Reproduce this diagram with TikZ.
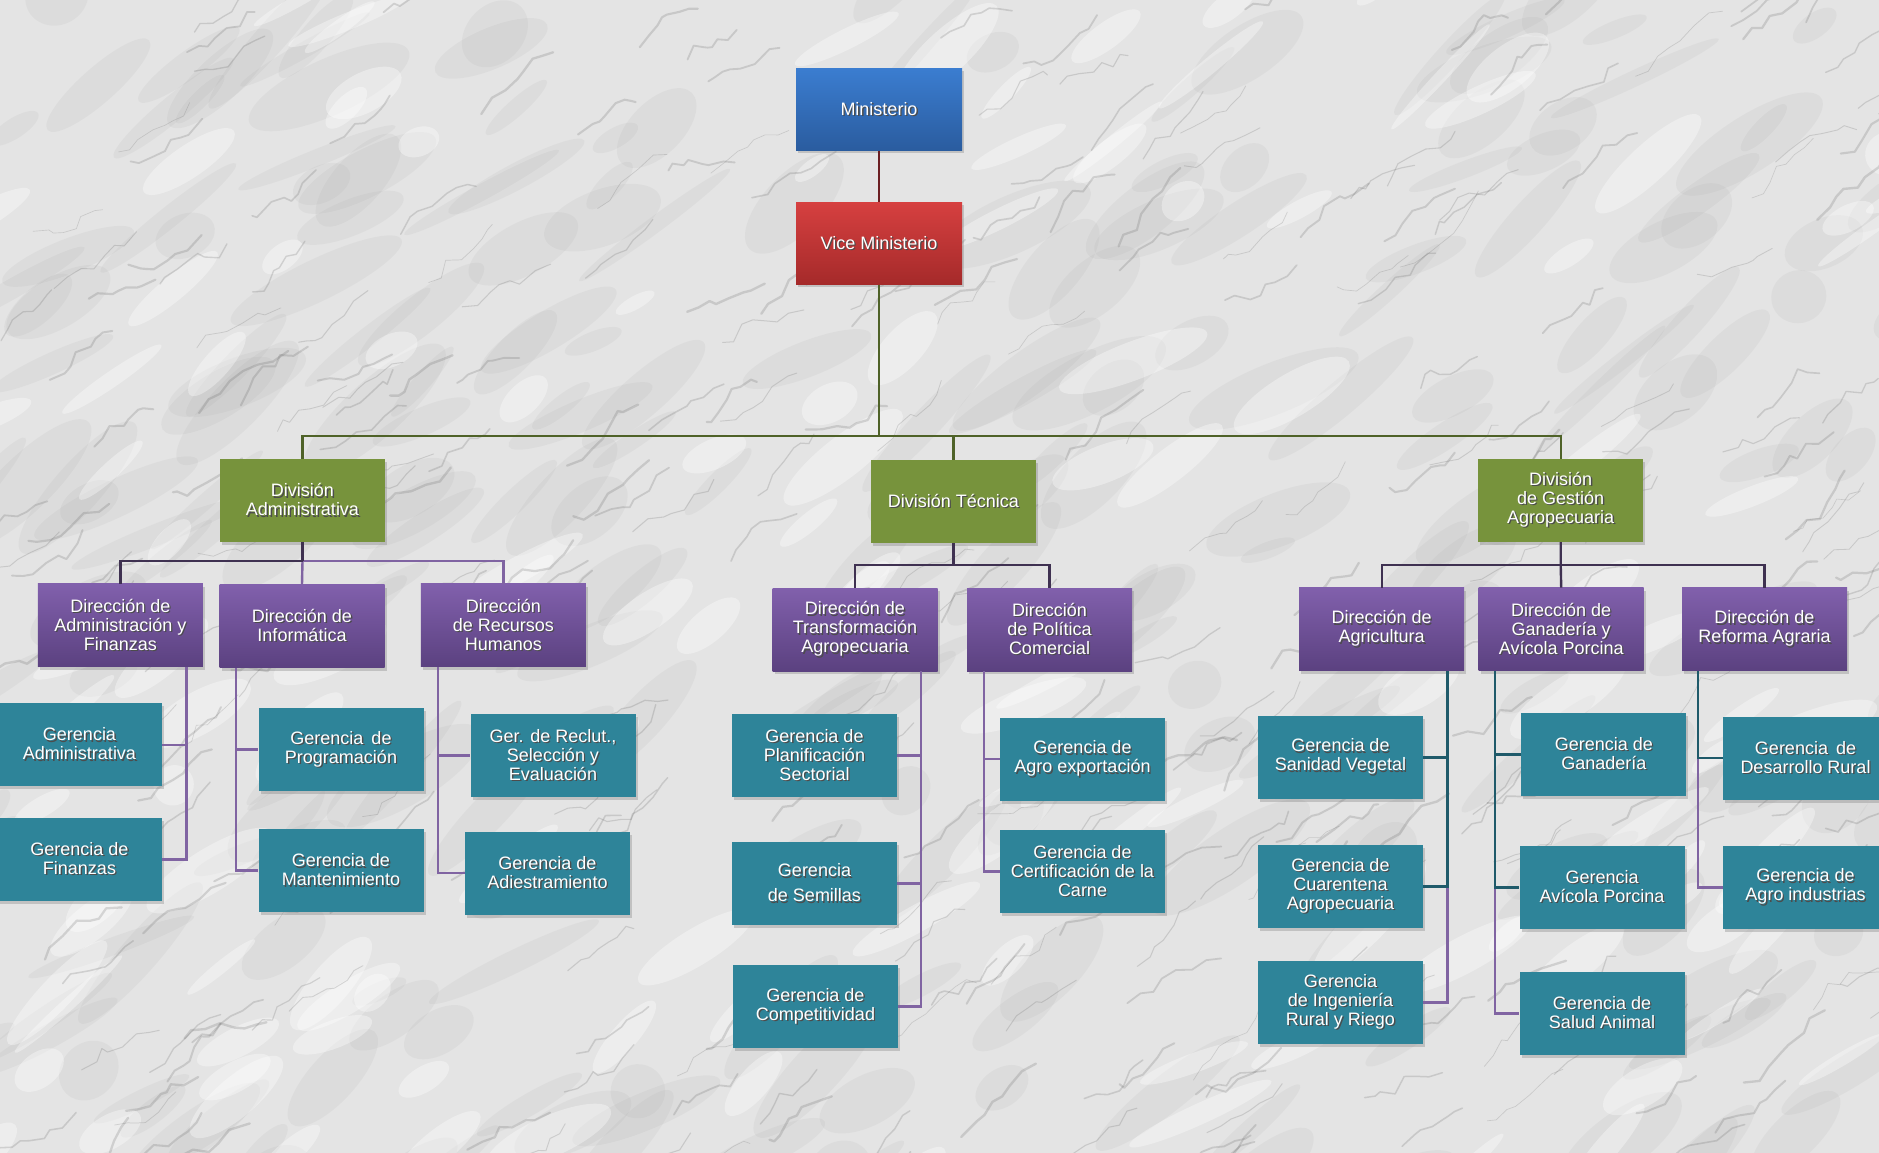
\documentclass[tikz,border=0pt]{standalone}
\usepackage{fontspec}
\setmainfont{Liberation Sans}
\usetikzlibrary{shadows}
\definecolor{bgc}{HTML}{E4E4E4}
\definecolor{minT}{HTML}{3B7DD0}
\definecolor{minB}{HTML}{2A5C9F}
\definecolor{viceT}{HTML}{D64040}
\definecolor{viceB}{HTML}{A52A2A}
\definecolor{grn}{HTML}{77933C}
\definecolor{purT}{HTML}{8160AC}
\definecolor{purB}{HTML}{5B4180}
\definecolor{tealc}{HTML}{2E8499}
\definecolor{lnRed}{HTML}{6B1E22}
\definecolor{lnGrn}{HTML}{4F6228}
\definecolor{lnDk}{HTML}{3F3151}
\definecolor{lnPur}{HTML}{8064A2}
\definecolor{lnTeal}{HTML}{1F5A6A}
\newcommand\sh[1]{\makebox[0pt][l]{\hspace{1.3pt}\raisebox{-1.3pt}{\color{black!70}#1}}#1}
\tikzset{
  box/.style={rectangle, inner sep=2pt, align=center, text=white,
    font=\fontsize{18}{19}\selectfont, minimum width=165pt, minimum height=83pt,
    drop shadow={shadow xshift=2pt, shadow yshift=-3pt, opacity=0.35}},
  minbox/.style={box, top color=minT, bottom color=minB},
  vicebox/.style={box, top color=viceT, bottom color=viceB},
  divbox/.style={box, fill=grn},
  dirbox/.style={box, top color=purT, bottom color=purB},
  gerbox/.style={box, fill=tealc},
  ln/.style={line width=2.4pt},
  lred/.style={ln, draw=lnRed},
  lgrn/.style={ln, draw=lnGrn},
  ldk/.style={ln, draw=lnDk},
  lpur/.style={ln, draw=lnPur},
  lteal/.style={ln, draw=lnTeal},
}
\begin{document}
\begin{tikzpicture}[x=1pt, y=-1pt]
\useasboundingbox (0,0) rectangle (1879,1153);
\clip (0,0) rectangle (1879,1153);
\fill[bgc] (0,0) rectangle (1879,1153);
% marble texture
\pgfmathsetseed{4242}
\foreach \i in {1,...,260}{
  \pgfmathsetmacro\xa{rnd*1960-40}
  \pgfmathsetmacro\ya{rnd*1220-30}
  \pgfmathsetmacro\rx{25+rnd*70}
  \pgfmathsetmacro\ry{8+rnd*22}
  \pgfmathsetmacro\rot{20+rnd*30}
  \fill[gray, opacity=0.07, rotate around={\rot:(\xa,\ya)}] (\xa,\ya) ellipse [x radius=\rx pt, y radius=\ry pt];
}
\foreach \i in {1,...,140}{
  \pgfmathsetmacro\xa{rnd*1960-40}
  \pgfmathsetmacro\ya{rnd*1220-30}
  \pgfmathsetmacro\rx{20+rnd*60}
  \pgfmathsetmacro\ry{6+rnd*16}
  \pgfmathsetmacro\rot{20+rnd*30}
  \fill[white, opacity=0.35, rotate around={\rot:(\xa,\ya)}] (\xa,\ya) ellipse [x radius=\rx pt, y radius=\ry pt];
}
\foreach \i in {1,...,320}{
  \pgfmathsetmacro\xa{rnd*1960-40}
  \pgfmathsetmacro\ya{rnd*1220-30}
  \pgfmathsetmacro\lw{0.6+rnd*1.8}
  \draw[line width=\lw pt, gray!70!black, opacity=0.2, line cap=round, line join=round]
    (\xa,\ya) \foreach \k in {1,...,7}{ -- ++({4+12*rnd},{-3-7*rnd+8*rand}) };
}

% top
\node[minbox, minimum width=166pt, minimum height=82pt] (min) at (879,109.5) {\sh{Ministerio}};
\node[vicebox, minimum width=166pt, minimum height=82pt] (vice) at (879,243.3) {\sh{Vice Ministerio}};
% divisions
\node[divbox] (divA) at (302.5,500.5) {\sh{División}\\\sh{Administrativa}};
\node[divbox] (divT) at (953.3,501.5) {\sh{División Técnica}};
\node[divbox] (divG) at (1560.7,500.5) {\sh{División}\\\sh{de Gestión}\\\sh{Agropecuaria}};
% direcciones
\node[dirbox] (dAF) at (120.4,625.3) {\sh{Dirección de}\\\sh{Administración y}\\\sh{Finanzas}};
\node[dirbox] (dInf) at (302,626.3) {\sh{Dirección de}\\\sh{Informática}};
\node[dirbox] (dRH) at (503.4,625.3) {\sh{Dirección}\\\sh{de Recursos}\\\sh{Humanos}};
\node[dirbox] (dTA) at (855,629.6) {\sh{Dirección de}\\\sh{Transformación}\\\sh{Agropecuaria}};
\node[dirbox] (dPC) at (1049.5,629.6) {\sh{Dirección}\\\sh{de Política}\\\sh{Comercial}};
\node[dirbox] (dAg) at (1381.7,629.3) {\sh{Dirección de}\\\sh{Agricultura}};
\node[dirbox] (dGan) at (1561.2,629.3) {\sh{Dirección de}\\\sh{Ganadería y}\\\sh{Avícola Porcina}};
\node[dirbox] (dRA) at (1764.5,629.3) {\sh{Dirección de}\\\sh{Reforma Agraria}};
% gerencias
\node[gerbox] (gAdm) at (79.5,744.7) {\sh{Gerencia}\\\sh{Administrativa}};
\node[gerbox] (gFin) at (79.5,859.3) {\sh{Gerencia de}\\\sh{Finanzas}};
\node[gerbox] (gProg) at (341,749.5) {\sh{Gerencia\, de}\\\sh{Programación}};
\node[gerbox] (gMant) at (341,870.5) {\sh{Gerencia de}\\\sh{Mantenimiento}};
\node[gerbox] (gRecl) at (553,755.5) {\sh{Ger. de Reclut.,}\\\sh{Selección y}\\\sh{Evaluación}};
\node[gerbox] (gAdies) at (547.5,873.2) {\sh{Gerencia de}\\\sh{Adiestramiento}};
\node[gerbox] (gPlan) at (814.5,755.5) {\sh{Gerencia de}\\\sh{Planificación}\\\sh{Sectorial}};
\node[gerbox] (gSem) at (814.5,883.5) {\sh{Gerencia}\\[6pt]\sh{de Semillas}};
\node[gerbox] (gComp) at (815.5,1006.5) {\sh{Gerencia de}\\\sh{Competitividad}};
\node[gerbox] (gAgroExp) at (1082.5,759.2) {\sh{Gerencia de}\\\sh{Agro exportación}};
\node[gerbox] (gCert) at (1082.5,871.3) {\sh{Gerencia de}\\\sh{Certificación de la}\\\sh{Carne}};
\node[gerbox] (gSan) at (1340.5,757.3) {\sh{Gerencia de}\\\sh{Sanidad Vegetal}};
\node[gerbox] (gCuar) at (1340.5,886.3) {\sh{Gerencia de}\\\sh{Cuarentena}\\\sh{Agropecuaria}};
\node[gerbox] (gIng) at (1340.5,1002.3) {\sh{Gerencia}\\\sh{de Ingeniería}\\\sh{Rural y Riego}};
\node[gerbox] (gGan) at (1603.8,754.3) {\sh{Gerencia de}\\\sh{Ganadería}};
\node[gerbox] (gAvi) at (1602,887.3) {\sh{Gerencia}\\\sh{Avícola Porcina}};
\node[gerbox] (gSal) at (1602,1013.3) {\sh{Gerencia de}\\\sh{Salud Animal}};
\node[gerbox] (gDes) at (1805.5,758) {\sh{Gerencia\, de}\\\sh{Desarrollo Rural}};
\node[gerbox] (gAgroInd) at (1805.5,887.3) {\sh{Gerencia de}\\\sh{Agro industrias}};

% connectors
\draw[lred] (min.south) -- (vice.north);
\coordinate (bus0) at (879,436);
\draw[lgrn] (vice.south) -- (bus0);
\draw[lgrn] (divA.north) |- (bus0);
\draw[lgrn] (divG.north) |- (bus0);
\draw[lgrn] (divT.north) |- (bus0);

\coordinate (busA) at (302.5,561);
\draw[lpur] (busA) -| (dRH.north);
\draw[lpur] (busA) -- (dInf.north);
\draw[ldk] (divA.south) -- (busA);
\draw[ldk] (busA) -| (dAF.north);

\coordinate (busT) at (953.3,565);
\draw[ldk] (divT.south) -- (busT);
\draw[ldk] (busT) -| (dTA.north);
\draw[ldk] (busT) -| (dPC.north);

\coordinate (busG) at (1560.7,565);
\draw[ldk] (divG.south) -- (busG) -- (dGan.north);
\draw[ldk] (busG) -| (dAg.north);
\draw[ldk] (busG) -| (dRA.north);

% direccion -> gerencia
\draw[lpur] ([xshift=66pt]dAF.south) |- (gAdm.east);
\draw[lpur] ([xshift=66pt]dAF.south) |- (gFin.east);
\draw[lpur] ([xshift=-66.3pt]dInf.south) |- (gProg.west);
\draw[lpur] ([xshift=-66.3pt]dInf.south) |- (gMant.west);
\draw[lpur] ([xshift=-65.7pt]dRH.south) |- (gRecl.west);
\draw[lpur] ([xshift=-65.7pt]dRH.south) |- (gAdies.west);
\draw[lpur] ([xshift=65.7pt]dTA.south) |- (gPlan.east);
\draw[lpur] ([xshift=65.7pt]dTA.south) |- (gSem.east);
\draw[lpur] ([xshift=65.7pt]dTA.south) |- (gComp.east);
\draw[lpur] ([xshift=-65.5pt]dPC.south) |- (gAgroExp.west);
\draw[lpur] ([xshift=-65.5pt]dPC.south) |- (gCert.west);

\draw[lpur] ([xshift=65.6pt]dAg.south) |- (gIng.east);
\draw[lteal] ([xshift=65.6pt]dAg.south) |- (gSan.east);
\draw[lteal] ([xshift=65.6pt]dAg.south) |- (gCuar.east);
\draw[lpur] ([xshift=-66pt]dGan.south) |- (gSal.west);
\draw[lteal] ([xshift=-66pt]dGan.south) |- (gGan.west);
\draw[lteal] ([xshift=-66pt]dGan.south) |- (gAvi.west);
\draw[lpur] ([xshift=-66.5pt]dRA.south) |- (gAgroInd.west);
\draw[lteal] ([xshift=-66.5pt]dRA.south) |- (gDes.west);
\end{tikzpicture}
\end{document}
